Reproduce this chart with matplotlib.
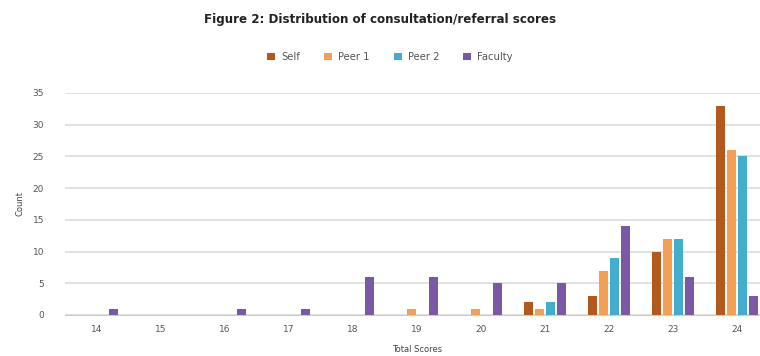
import matplotlib.pyplot as plt
import numpy as np

scores = ["14", "15", "16", "17", "18", "19", "20", "21", "22", "23", "24"]
self_counts = [0, 0, 0, 0, 0, 0, 0, 2, 3, 10, 33]
peer1_counts = [0, 0, 0, 0, 0, 1, 1, 1, 7, 12, 26]
peer2_counts = [0, 0, 0, 0, 0, 0, 0, 2, 9, 12, 25]
faculty_counts = [1, 0, 1, 1, 6, 6, 5, 5, 14, 6, 3]

series = [
    ("Self", self_counts, "#b3591d"),
    ("Peer 1", peer1_counts, "#f3a056"),
    ("Peer 2", peer2_counts, "#42adcc"),
    ("Faculty", faculty_counts, "#7a58a6"),
]

plt.rcParams["font.family"] = ["DejaVu Sans"]

fig = plt.figure(figsize=(7.6, 3.56), dpi=100)
ax = fig.add_axes([65 / 760, 1 - 315 / 356, 704 / 760, (315 - 93) / 356])

x = np.arange(len(scores))
pitch = 0.172
width = 0.155
for i, (name, vals, color) in enumerate(series):
    ax.bar(x + (i - 1.5) * pitch, vals, width, color=color, label=name, zorder=3)

ax.set_xlim(-0.5, len(scores) - 0.5)
ax.set_ylim(0, 35)
ax.set_yticks(range(0, 36, 5))
ax.set_xticks(x)
ax.set_xticklabels(scores)
ax.yaxis.grid(True, color="#dcdcdc", linewidth=1.2, zorder=0)
ax.set_axisbelow(True)
for side in ("top", "right", "left"):
    ax.spines[side].set_visible(False)
ax.spines["bottom"].set_color("#cccccc")
ax.tick_params(axis="both", length=0, labelsize=6.5, colors="#555555", pad=7)
ax.tick_params(axis="y", pad=15)

ax.set_xlabel("Total Scores", fontsize=6, color="#444444", labelpad=8)
ax.set_ylabel("Count", fontsize=6, color="#444444", labelpad=6)

fig.text(0.5, 1 - 19 / 356, "Figure 2: Distribution of consultation/referral scores",
         ha="center", va="center", fontsize=8.6, fontweight="bold", color="#222222")
fig.legend(loc="center", bbox_to_anchor=(0.513, 1 - 57 / 356), ncol=4, frameon=False,
           fontsize=7.2, handlelength=0.8, handleheight=0.8, handletextpad=0.6,
           columnspacing=2.4, labelcolor="#555555")

fig.savefig("out.png", dpi=100, facecolor="white")
